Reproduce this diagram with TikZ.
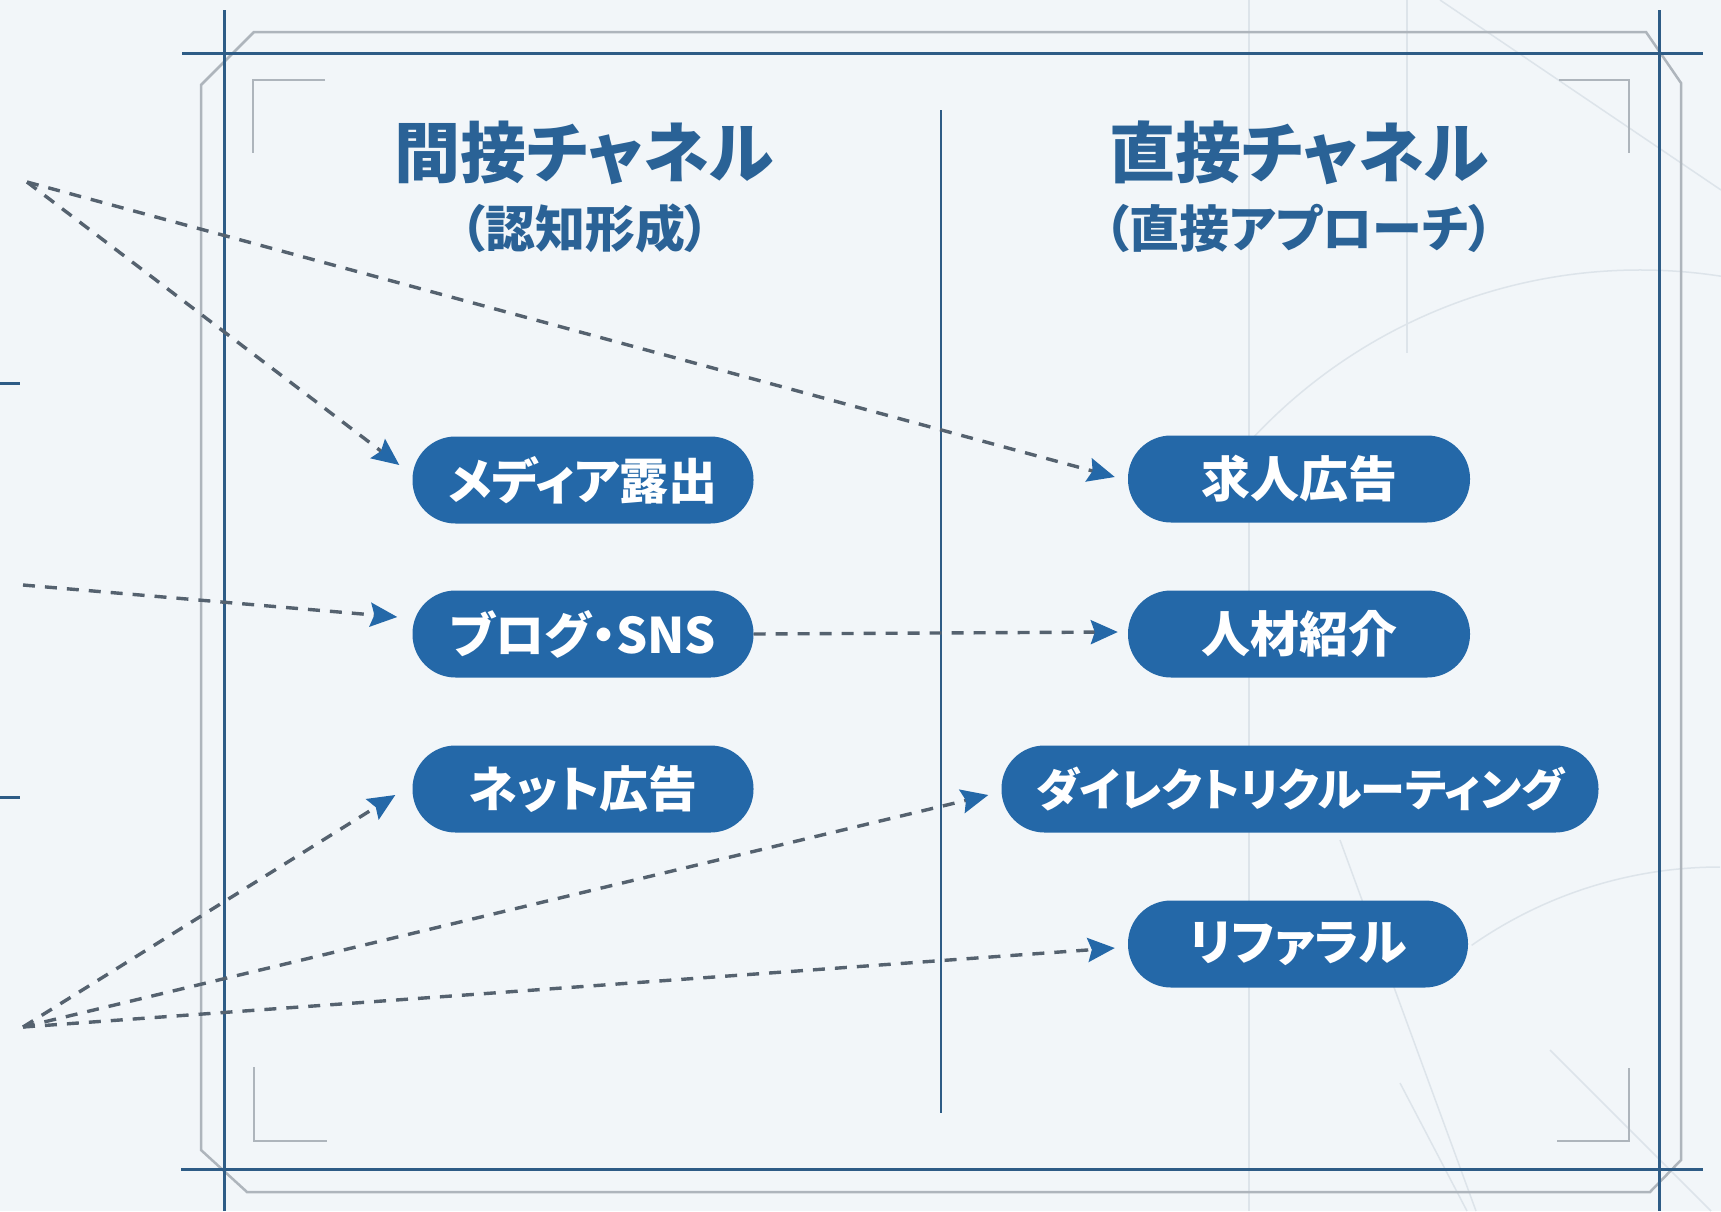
\documentclass[tikz,border=0pt]{standalone}
\usepackage{fontspec}
\setmainfont{Noto Sans CJK JP}[RawFeature=+palt]
\usetikzlibrary{arrows.meta,calc}
\definecolor{bgc}{HTML}{F2F6F9}
\definecolor{framec}{HTML}{2E5C86}
\definecolor{grayc}{HTML}{AEB5BC}
\definecolor{pillc}{HTML}{2468A8}
\definecolor{titlec}{HTML}{2A6296}
\definecolor{dashc}{HTML}{55626F}
\definecolor{faintc}{HTML}{DDE4EA}
\begin{document}
\begin{tikzpicture}[x=1pt,y=-1pt,
  pill/.style={fill=pillc, text=white, rounded corners=43pt, minimum height=87pt, inner sep=0pt, font=\fontsize{49}{52}\selectfont\bfseries},
  ttl/.style={text=titlec, font=\fontsize{66}{70}\selectfont\bfseries, inner sep=0pt},
  subttl/.style={text=titlec, font=\fontsize{50}{54}\selectfont\bfseries, inner sep=0pt},
  conn/.style={draw=dashc, line width=3.4pt, dash pattern=on 12pt off 10pt, -{Stealth[length=27pt,width=24pt,inset=4pt,color=pillc]}},
  frameline/.style={draw=framec, line width=3pt},
  grayline/.style={draw=grayc, line width=2.5pt},
  faint/.style={draw=faintc, line width=1.5pt}]
% background
\fill[bgc] (0,0) rectangle (1721,1211);
\useasboundingbox (0,0) rectangle (1721,1211);
% faint decoration
\draw[faint] (1249,0) -- (1249,1211);
\draw[faint] (1407,0) -- (1407,353);
\draw[faint] (1640,800) ++(-140:530) arc[start angle=-140, end angle=-80, radius=530];
\draw[faint] (1720,1300) ++(-125:433) arc[start angle=-125, end angle=-90, radius=433];
\draw[faint] (1440,0) -- (1721,190);
\draw[faint] (1550,1050) -- (1711,1211);
\draw[faint] (1400,1083) -- (1467,1211);
\draw[faint] (1340,840) -- (1476,1211);
% gray chamfered frame
\draw[grayline] (254,32) -- (1646,32) -- (1681,83) -- (1681,1160) -- (1650,1192) -- (247,1192) -- (201,1150) -- (201,85) -- cycle;
% dark frame lines
\draw[frameline] (182,53) -- (1703,53);
\draw[frameline] (181,1169) -- (1703,1169);
\draw[frameline] (224,10) -- (224,1211);
\draw[frameline] (1659,10) -- (1659,1211);
% corner brackets
\draw[grayline] (325,80) -- (253,80) -- (253,153);
\draw[grayline] (1559,80) -- (1629,80) -- (1629,153);
\draw[grayline] (254,1067) -- (254,1141) -- (327,1141);
\draw[grayline] (1557,1141) -- (1629,1141) -- (1629,1068);
% left ticks
\draw[frameline] (0,383) -- (20,383);
\draw[frameline] (0,797) -- (20,797);
% divider
\draw[draw=framec, line width=2.5pt] (941,110) -- (941,1113);
% titles
\node[ttl] (t1) at (584,153) {間接チャネル};
\node[subttl] (s1) at (585,228) {（認知形成）};
\node[ttl] (t2) at (1299,153) {直接チャネル};
\node[subttl] (s2) at (1299,228) {（直接アプローチ）};
% pills
\node[pill, minimum width=341pt] (media) at (583,480) {メディア露出};
\node[pill, minimum width=341pt] (blog) at (583,634) {ブログ・SNS};
\node[pill, minimum width=341pt] (net) at (583,789) {ネット広告};
\node[pill, minimum width=342pt] (job) at (1299,479) {求人広告};
\node[pill, minimum width=342pt] (jinzai) at (1299,634) {人材紹介};
\node[pill, minimum width=597pt, font=\fontsize{45}{50}\selectfont\bfseries] (direct) at (1300,789) {ダイレクトリクルーティング};
\node[pill, minimum width=340pt] (ref) at (1298,944) {リファラル};
% origins
\coordinate (o1) at (27,182);
\coordinate (o2) at (23,585);
\coordinate (o3) at (23,1027);
% connectors
\draw[conn] (o1) -- ($(media.west)+(-13,-15)$);
\draw[conn] (o1) -- ($(job.west)+(-13,-2)$);
\draw[conn] (o2) -- ($(blog.west)+(-15,-17)$);
\draw[conn] (blog.east) -- ($(jinzai.west)+(-10,-2)$);
\draw[conn] (o3) -- ($(net.west)+(-17,6)$);
\draw[conn] (o3) -- ($(direct.west)+(-13,6)$);
\draw[conn] (o3) -- ($(ref.west)+(-13,4)$);
\end{tikzpicture}
\end{document}
